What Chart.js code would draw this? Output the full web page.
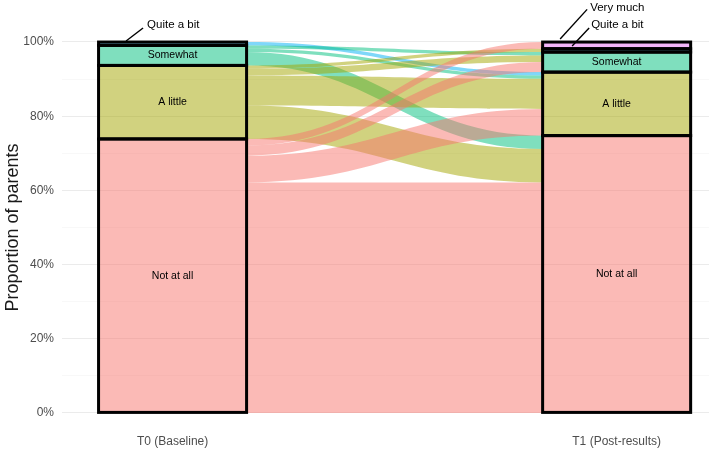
<!DOCTYPE html>
<html>
<head>
<meta charset="utf-8">
<script src="https://cdn.jsdelivr.net/npm/chart.js@4"></script>
<style>
  html, body { margin: 0; padding: 0; background: #fff; }
  #wrap { width: 709px; height: 455px; position: relative; }
</style>
</head>
<body>
<div id="wrap"><canvas id="alluvial"></canvas></div>
<script>
const timepoints = ['T0 (Baseline)', 'T1 (Post-results)'];
const levels = ['Not at all', 'A little', 'Somewhat', 'Quite a bit', 'Very much'];
const countsT0 = [82, 22, 6, 1, 0];
const countsT1 = [83, 19, 6, 1, 2];
// parents going from each T0 answer to each T1 answer (T1 answers in the order of levels)
const fromNotAtAll = [69, 8, 3, 0, 2];
const fromALittle = [10, 9, 2, 1, 0];
const fromSomewhat = [4, 1, 1, 0, 0];
const fromQuiteABit = [0, 1, 0, 0, 0];
const fromVeryMuch = [0, 0, 0, 0, 0];
const yTicks = [0, 20, 40, 60, 80, 100];

const flows = [fromNotAtAll, fromALittle, fromSomewhat, fromQuiteABit, fromVeryMuch];
const total = countsT0.reduce((a, b) => a + b, 0);
const pct = c => c / total * 100;

const fills = [
    'rgba(248,118,109,0.5)',
    'rgba(163,165,0,0.5)',
    'rgba(0,191,125,0.5)',
    'rgba(0,176,246,0.5)',
    'rgba(231,107,243,0.5)'
];
const barWidth = 1 / 3;
const fontFamily = "'Liberation Sans', Arial, sans-serif";

// small strata get a label off to the side with a leader line (pixel offsets from stratum centre)
const sideLabels = {
    '0-3': { from: [-46.5, -2.7], to: [-29.5, -15.7], text: [-25.5, -18.7] },
    '1-3': { from: [-44.5, -4.3], to: [-27.5, -22.3], text: [-25.5, -25.3] },
    '1-4': { from: [-56.5, -6.3], to: [-29.5, -36], text: [-26.5, -38] }
};

function cumulative(arr) {
    const out = [];
    let s = 0;
    arr.forEach(v => { out.push(s); s += v; });
    return out;
}

const alluvialFlows = {
    id: 'alluvialFlows',
    beforeDatasetsDraw(chart) {
        const { ctx, scales: { x, y } } = chart;
        const xL = x.getPixelForValue(barWidth / 2);
        const xR = x.getPixelForValue(1 - barWidth / 2);
        const leftPos = cumulative(countsT0);
        const rightPos = cumulative(countsT1);
        const bands = [];
        for (let i = 0; i < levels.length; i++) {
            for (let j = 0; j < levels.length; j++) {
                const n = flows[i][j];
                if (!n) continue;
                bands.push({ i, l0: leftPos[i], l1: leftPos[i] + n, r0: rightPos[j], r1: rightPos[j] + n });
                leftPos[i] += n;
                rightPos[j] += n;
            }
        }
        const k = (xR - xL) * 0.45;
        ctx.save();
        [4, 3, 2, 1, 0].forEach(src => {
            bands.filter(b => b.i === src).forEach(b => {
                const yl0 = y.getPixelForValue(pct(b.l0)), yl1 = y.getPixelForValue(pct(b.l1));
                const yr0 = y.getPixelForValue(pct(b.r0)), yr1 = y.getPixelForValue(pct(b.r1));
                ctx.beginPath();
                ctx.moveTo(xL, yl0);
                ctx.bezierCurveTo(xL + k, yl0, xR - k, yr0, xR, yr0);
                ctx.lineTo(xR, yr1);
                ctx.bezierCurveTo(xR - k, yr1, xL + k, yl1, xL, yl1);
                ctx.closePath();
                ctx.fillStyle = fills[b.i];
                ctx.fill();
            });
        });
        ctx.restore();
    },
    afterDatasetsDraw(chart) {
        const { ctx } = chart;
        ctx.save();
        // strata outlines
        ctx.strokeStyle = '#000';
        ctx.lineWidth = 3;
        chart.data.datasets.forEach((ds, k) => {
            chart.getDatasetMeta(k).data.forEach((bar, t) => {
                if (ds.data[t].y == null) return;
                const { x, y, base, width } = bar.getProps(['x', 'y', 'base', 'width'], true);
                ctx.strokeRect(x - width / 2, y, width, base - y);
            });
        });
        // strata labels
        ctx.fillStyle = '#000';
        ctx.textBaseline = 'middle';
        chart.data.datasets.forEach((ds, k) => {
            chart.getDatasetMeta(k).data.forEach((bar, t) => {
                if (ds.data[t].y == null) return;
                const { x, y, base } = bar.getProps(['x', 'y', 'base'], true);
                const cy = (y + base) / 2;
                const side = sideLabels[t + '-' + k];
                if (side) {
                    ctx.lineWidth = 1.4;
                    ctx.beginPath();
                    ctx.moveTo(x + side.from[0], cy + side.from[1]);
                    ctx.lineTo(x + side.to[0], cy + side.to[1]);
                    ctx.stroke();
                    ctx.font = '11.5px ' + fontFamily;
                    ctx.textAlign = 'left';
                    ctx.fillText(levels[k], x + side.text[0], cy + side.text[1]);
                } else {
                    ctx.font = '10.5px ' + fontFamily;
                    ctx.textAlign = 'center';
                    ctx.fillText(levels[k], x, cy);
                }
            });
        });
        ctx.restore();
    }
};

const gridValues = [0, 10, 20, 30, 40, 50, 60, 70, 80, 90, 100];

new Chart(document.getElementById('alluvial'), {
    type: 'bar',
    data: {
        datasets: levels.map((lvl, k) => ({
            label: lvl,
            data: [
                { x: 0, y: countsT0[k] ? pct(countsT0[k]) : null },
                { x: 1, y: countsT1[k] ? pct(countsT1[k]) : null }
            ],
            backgroundColor: fills[k],
            borderWidth: 0,
            categoryPercentage: barWidth,
            barPercentage: 1
        }))
    },
    options: {
        responsive: true,
        maintainAspectRatio: false,
        animation: false,
        layout: { padding: { top: 23.5, right: 0, left: 0, bottom: 0 } },
        plugins: { legend: { display: false }, tooltip: { enabled: false } },
        scales: {
            x: {
                type: 'linear',
                min: -0.249,
                max: 1.208,
                offset: false,
                stacked: true,
                afterBuildTicks: s => { s.ticks = [{ value: 0 }, { value: 1 }]; },
                afterFit: s => { s.height = 23.5; },
                ticks: {
                    callback: v => timepoints[v],
                    color: '#4D4D4D',
                    font: { size: 12, family: fontFamily },
                    padding: 3,
                    autoSkip: false,
                    maxRotation: 0
                },
                grid: { display: false, offset: false, drawTicks: false },
                border: { display: false }
            },
            y: {
                min: -5,
                max: 105,
                stacked: true,
                afterBuildTicks: s => { s.ticks = gridValues.map(v => ({ value: v })); },
                afterFit: s => { s.width = 62; },
                ticks: {
                    callback: v => yTicks.includes(v) ? v + '%' : '',
                    color: '#4D4D4D',
                    font: { size: 12, family: fontFamily },
                    padding: 8,
                    autoSkip: false
                },
                grid: {
                    color: c => yTicks.includes(c.tick.value) ? '#EBEBEB' : '#F4F4F4',
                    lineWidth: c => yTicks.includes(c.tick.value) ? 1.1 : 0.6,
                    drawTicks: false
                },
                border: { display: false },
                title: {
                    display: true,
                    text: 'Proportion of parents',
                    color: '#1A1A1A',
                    font: { size: 18, family: fontFamily },
                    padding: { top: 2, bottom: 0 }
                }
            }
        }
    },
    plugins: [alluvialFlows]
});
</script>
</body>
</html>
